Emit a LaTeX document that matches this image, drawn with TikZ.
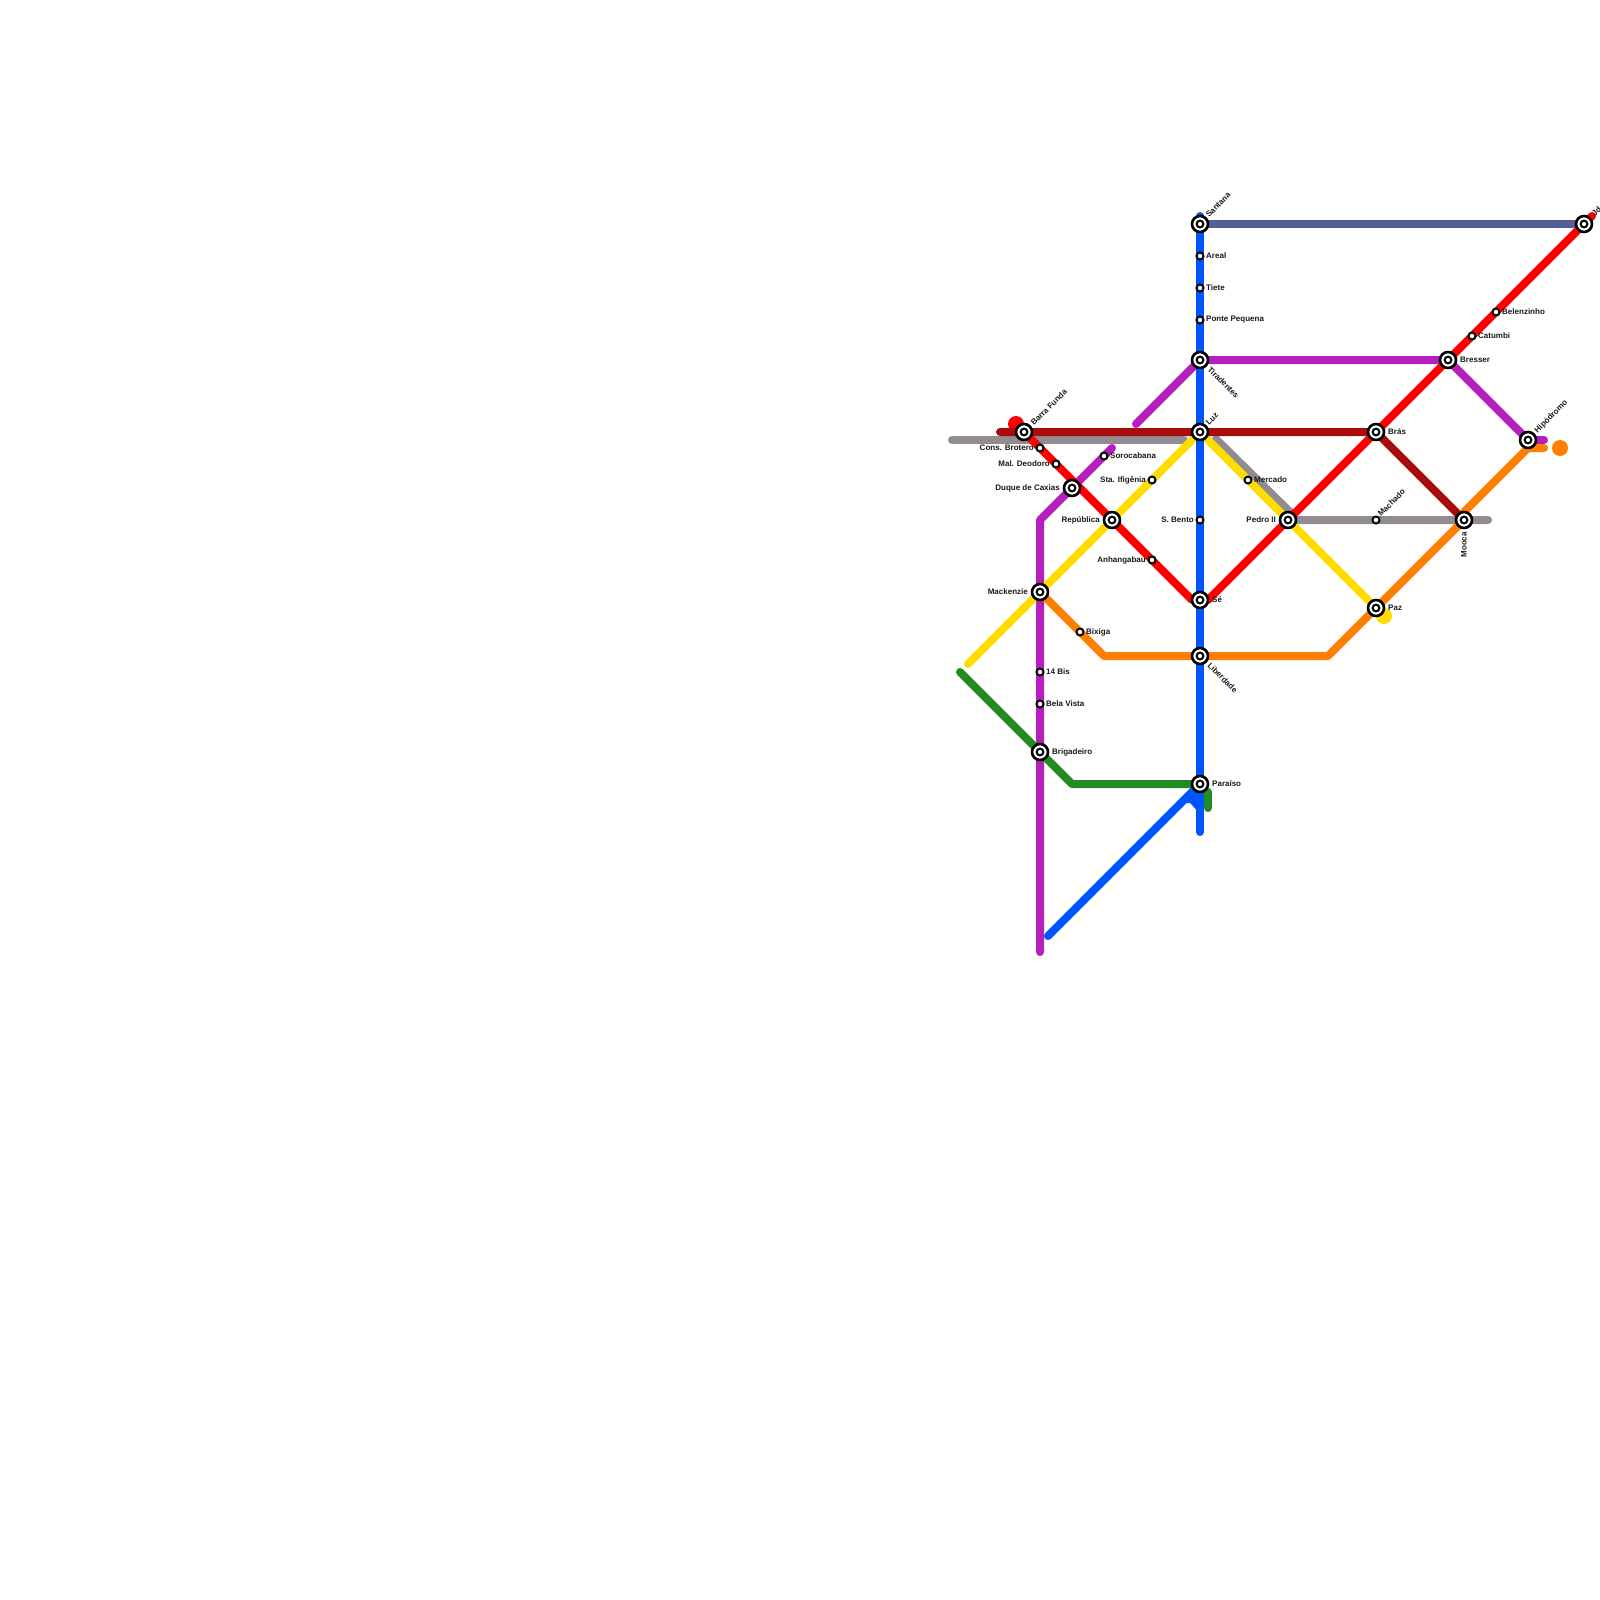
\documentclass[tikz,border=0pt]{standalone}
\usepackage{fontspec}
\setmainfont{Liberation Sans}
\usetikzlibrary{backgrounds}
\definecolor{lgray}{HTML}{928B90}
\definecolor{lnavy}{HTML}{565F93}
\definecolor{lpurple}{HTML}{B51FBB}
\definecolor{lyellow}{HTML}{FFDD00}
\definecolor{lorange}{HTML}{FF7F00}
\definecolor{lgreen}{HTML}{228B22}
\definecolor{ldred}{HTML}{AA0B0B}
\definecolor{lred}{HTML}{FF0000}
\definecolor{lblue}{HTML}{0055FF}
\tikzset{
  metro/.style={line width=8pt,line cap=round,line join=round},
  hub/.style={circle,draw=black,fill=white,line width=2.6pt,minimum size=16pt,inner sep=0pt,
    path picture={\draw[black,line width=2pt] (path picture bounding box.center) circle (3.4pt);}},
  halt/.style={circle,draw=black,fill=white,line width=2pt,minimum size=7pt,inner sep=0pt},
  lab/.style={font=\fontsize{8}{9}\selectfont\bfseries,inner sep=0pt,text=black!90}
}
\begin{document}
\begin{tikzpicture}[x=1pt,y=-1pt]
\useasboundingbox (0,0) rectangle (1600,1600);
% hubs
\node[hub] (santana) at (1200,224) {};
\node[hub] (tirad) at (1200,360) {};
\node[hub] (luz) at (1200,432) {};
\node[hub] (se) at (1200,600) {};
\node[hub] (liber) at (1200,656) {};
\node[hub] (paraiso) at (1200,784) {};
\node[hub] (barra) at (1024,432) {};
\node[hub] (duque) at (1072,488) {};
\node[hub] (repub) at (1112,520) {};
\node[hub] (macken) at (1040,592) {};
\node[hub] (brig) at (1040,752) {};
\node[hub] (pedro) at (1288,520) {};
\node[hub] (bras) at (1376,432) {};
\node[hub] (bresser) at (1448,360) {};
\node[hub] (jd) at (1584,224) {};
\node[hub] (mooca) at (1464,520) {};
\node[hub] (paz) at (1376,608) {};
\node[hub] (hipo) at (1528,440) {};
% halts
\node[halt] (areal) at (1200,256) {};
\node[halt] (tiete) at (1200,288) {};
\node[halt] (ponte) at (1200,320) {};
\node[halt] (bento) at (1200,520) {};
\node[halt] (cons) at (1040,448) {};
\node[halt] (mal) at (1056,464) {};
\node[halt] (soro) at (1104,456) {};
\node[halt] (ifig) at (1152,480) {};
\node[halt] (anhan) at (1152,560) {};
\node[halt] (bixiga) at (1080,632) {};
\node[halt] (bis) at (1040,672) {};
\node[halt] (bela) at (1040,704) {};
\node[halt] (merc) at (1248,480) {};
\node[halt] (mach) at (1376,520) {};
\node[halt] (catu) at (1472,336) {};
\node[halt] (belen) at (1496,312) {};
% labels
\node[lab,anchor=west,rotate=45] (tsantana) at (1207,216) {Santana};
\node[lab,anchor=west] (tareal) at (1206,256) {Areal};
\node[lab,anchor=west] (ttiete) at (1206,288) {Tiete};
\node[lab,anchor=west] (tponte) at (1206,320) {Ponte Pequena};
\node[lab,anchor=west,rotate=-45] (ttirad) at (1209,368) {Tiradentes};
\node[lab,anchor=west,rotate=45] (tluz) at (1207,424) {Luz};
\node[lab,anchor=east] (tbento) at (1194,520) {S. Bento};
\node[lab,anchor=west] (tse) at (1212,600) {Sé};
\node[lab,anchor=west,rotate=-45] (tliber) at (1209,664) {Liberdade};
\node[lab,anchor=west] (tparaiso) at (1212,784) {Paraíso};
\node[lab,anchor=west,rotate=45] (tbarra) at (1032,424) {Barra Funda};
\node[lab,anchor=east] (tcons) at (1034,448) {Cons. Brotero};
\node[lab,anchor=east] (tmal) at (1050,464) {Mal. Deodoro};
\node[lab,anchor=east] (tduque) at (1060,488) {Duque de Caxias};
\node[lab,anchor=east] (trepub) at (1100,520) {República};
\node[lab,anchor=east] (tmacken) at (1028,592) {Mackenzie};
\node[lab,anchor=west] (tsoro) at (1110,456) {Sorocabana};
\node[lab,anchor=east] (tifig) at (1146,480) {Sta. Ifigênia};
\node[lab,anchor=east] (tanhan) at (1146,560) {Anhangabau};
\node[lab,anchor=west] (tbixiga) at (1086,632) {Bixiga};
\node[lab,anchor=west] (tbis) at (1046,672) {14 Bis};
\node[lab,anchor=west] (tbela) at (1046,704) {Bela Vista};
\node[lab,anchor=west] (tbrig) at (1052,752) {Brigadeiro};
\node[lab,anchor=west] (tmerc) at (1254,480) {Mercado};
\node[lab,anchor=east] (tpedro) at (1276,520) {Pedro II};
\node[lab,anchor=west,rotate=45] (tmach) at (1379,515) {Machado};
\node[lab,anchor=west] (tbras) at (1388,432) {Brás};
\node[lab,anchor=west] (tbresser) at (1460,360) {Bresser};
\node[lab,anchor=west] (tcatu) at (1478,336) {Catumbi};
\node[lab,anchor=west] (tbelen) at (1502,312) {Belenzinho};
\node[lab,anchor=east,rotate=90] (tmooca) at (1464,532) {Mooca};
\node[lab,anchor=west] (tpaz) at (1388,608) {Paz};
\node[lab,anchor=west,rotate=45] (thipo) at (1536,432) {Hipódromo};
\node[lab,anchor=west,rotate=45] (tjd) at (1593,215) {Jd};
% waypoints
\coordinate (gA) at (952,440);
\coordinate (gB) at (1184,440);
\coordinate (gC) at (1216,439);
\coordinate (gM) at (1293,515);
\coordinate (gD) at (1488,520);
\coordinate (pA) at (1040,952);
\coordinate (pB) at (1040,520);
\coordinate (pC) at (1112,448);
\coordinate (pD) at (1136,424);
\coordinate (pE) at (1544,440);
\coordinate (yA) at (968,664);
\coordinate (oA) at (1104,656);
\coordinate (oB) at (1328,656);
\coordinate (oM) at (1464,512);
\coordinate (oC) at (1528,448);
\coordinate (oD) at (1544,448);
\coordinate (grA) at (960,672);
\coordinate (grB) at (1072,784);
\coordinate (grC) at (1208,792);
\coordinate (grD) at (1208,808);
\coordinate (rA) at (1016,424);
\coordinate (rB) at (1192,600);
\coordinate (rC) at (1208,600);
\coordinate (rD) at (1592,216);
\coordinate (dA) at (1000,432);
\coordinate (bA) at (1200,216);
\coordinate (bB) at (1200,832);
\coordinate (bC) at (1048,936);
\coordinate (bD) at (1185,799);
\coordinate (bE) at (1192,799);
\coordinate (bF) at (1200,808);
\coordinate (yDot) at (1384,616);
\coordinate (oDot) at (1560,448);
\begin{scope}[on background layer]
  \fill[white] (0,0) rectangle (1600,1600);
  \draw[metro,lgray] (gA) -- (gB);
  \draw[metro,lgray] (gC) -- (gM) -- (pedro.center) -- (gD);
  \draw[metro,lnavy] (santana.center) -- (jd.center);
  \draw[metro,lpurple] (pA) -- (pB) -- (pC);
  \draw[metro,lpurple] (pD) -- (tirad.center) -- (bresser.center) -- (hipo.center) -- (pE);
  \draw[metro,lyellow] (yA) -- (luz.center) -- (paz.center);
  \fill[lyellow] (yDot) circle (8pt);
  \fill[lred] (rA) circle (8pt);
  \draw[metro,lred] (rA) -- (rB) -- (se.center) -- (rC) -- (rD);
  \draw[metro,ldred] (dA) -- (bras.center) -- (mooca.center);
  \draw[metro,lorange] (macken.center) -- (oA) -- (oB) -- (mooca.center) -- (oM) -- (oC) -- (oD);
  \fill[lorange] (oDot) circle (8pt);
  \draw[metro,lgreen] (grA) -- (grB) -- (paraiso.center);
  \draw[metro,lgreen] (grC) -- (grD);
  \draw[metro,lblue] (bA) -- (bB);
  \draw[metro,lblue] (bC) -- (paraiso.center);
  \draw[metro,lblue] (bD) -- (bE) -- (bF);
  \fill[lblue] (paraiso.center) -- (bD) -- (bE) -- (bF) -- cycle;
\end{scope}
\end{tikzpicture}
\end{document}
